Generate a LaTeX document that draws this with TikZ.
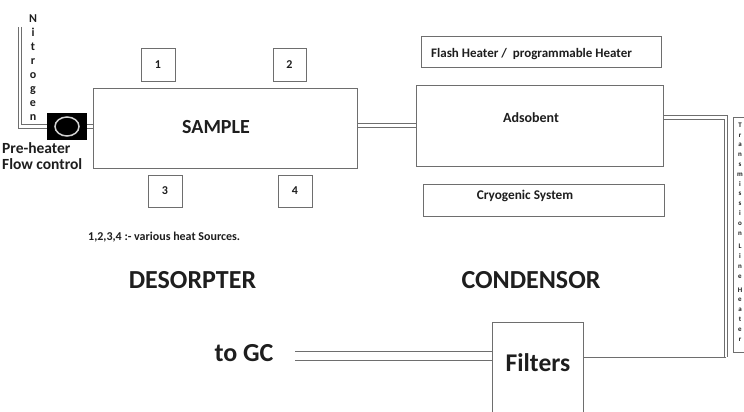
\documentclass[tikz,border=0pt]{standalone}
\usepackage{fontspec}
\setmainfont{Carlito}
\definecolor{linegray}{HTML}{6E6E6E}
\definecolor{ink}{HTML}{1E1E1E}

\begin{document}
\begin{tikzpicture}[x=1pt,y=-1pt,
	box/.style={draw=linegray,line width=1pt,inner sep=0pt},
	pipe/.style={draw=linegray,line width=0.8pt,double=white,double distance=2.6pt},
	gcpipe/.style={draw=linegray,line width=1pt,double=white,double distance=8pt},
	wire/.style={draw=linegray,line width=1pt},
	txt/.style={text=ink,inner sep=0pt,font=\bfseries\fontsize{#1}{#1}\selectfont}]
\useasboundingbox (0,0) rectangle (744,412);
\fill[white] (0,0) rectangle (744,412);
\node[box,minimum width=264,minimum height=80] (sample) at (225,128) {};
\node[txt=20] (sampletxt) at (216,127) {SAMPLE};
\node[box,txt=12,minimum width=34,minimum height=32] (h1) at (158,65) {1};
\node[box,txt=12,minimum width=33,minimum height=32] (h2) at (289.5,65) {2};
\node[box,txt=12,minimum width=34,minimum height=32] (h3) at (165,191) {3};
\node[box,txt=12,minimum width=34,minimum height=32] (h4) at (295,191) {4};
\node[fill=black,minimum width=40,minimum height=27,inner sep=0pt] (pre) at (67,126.5) {};
\draw[gray!35,line width=1.5pt] (pre.center) ellipse [x radius=12,y radius=9.5];
\node[txt=15.5,anchor=west] (pretxt) at (2,148) {Pre-heater};
\node[txt=15.5,anchor=west] (flowtxt) at (2,164) {Flow control};
\node[txt=12,align=center,font=\bfseries\fontsize{12}{14}\selectfont] (nitro) at (33,68) {N\\i\\t\\r\\o\\g\\e\\n};
\node[txt=12,anchor=west] (sources) at (88,237) {1,2,3,4 :- various heat Sources.};
\node[txt=26] (desorp) at (192.5,280) {DESORPTER};
\node[txt=26] (cond) at (531,280) {CONDENSOR};
\node[box,minimum width=240,minimum height=31] (flash) at (541,52.5) {};
\node[txt=13,anchor=west] (flashtxt) at (431,54) {Flash Heater /\ \ programmable Heater};
\node[box,minimum width=247,minimum height=81] (ads) at (539.5,125.5) {};
\node[txt=14] (adstxt) at (531,118) {Adsobent};
\node[box,minimum width=241,minimum height=32] (cryo) at (543.5,200) {};
\node[txt=13.3] (cryotxt) at (525,196) {Cryogenic System};
\node[box,minimum width=91,minimum height=118] (filters) at (537.5,381) {};
\node[txt=25.5] (filtxt) at (538,363) {Filters};
\node[txt=26] (togc) at (244,353) {to GC};
\node[box,minimum width=18,minimum height=235,anchor=north west] (tline) at (733,117) {};
\node[txt=7,align=center,font=\bfseries\fontsize{7}{9.8}\selectfont] (tlinetxt) at (740,232) {T\\r\\a\\n\\s\\m\\i\\s\\s\\i\\o\\n\\[4pt]L\\i\\n\\e\\[4pt]H\\e\\a\\t\\e\\r};
\coordinate (nin) at (20,27);
\coordinate (bend) at (726,117.5);
\coordinate (low) at (726,357);
\coordinate (gc) at (295,355.5);
\draw[pipe] (nin) |- (pre.west);
\draw[pipe] (pre.east) -- (pre.east -| sample.west);
\draw[pipe] (sample.east |- ads.west) -- (ads.west);
\draw[pipe] (ads.east |- bend) -- (bend) -- (low);
\draw[wire] (filters.east |- low) -- (low);
\draw[gcpipe] (gc) -- (filters.west |- gc);
\end{tikzpicture}
\end{document}
